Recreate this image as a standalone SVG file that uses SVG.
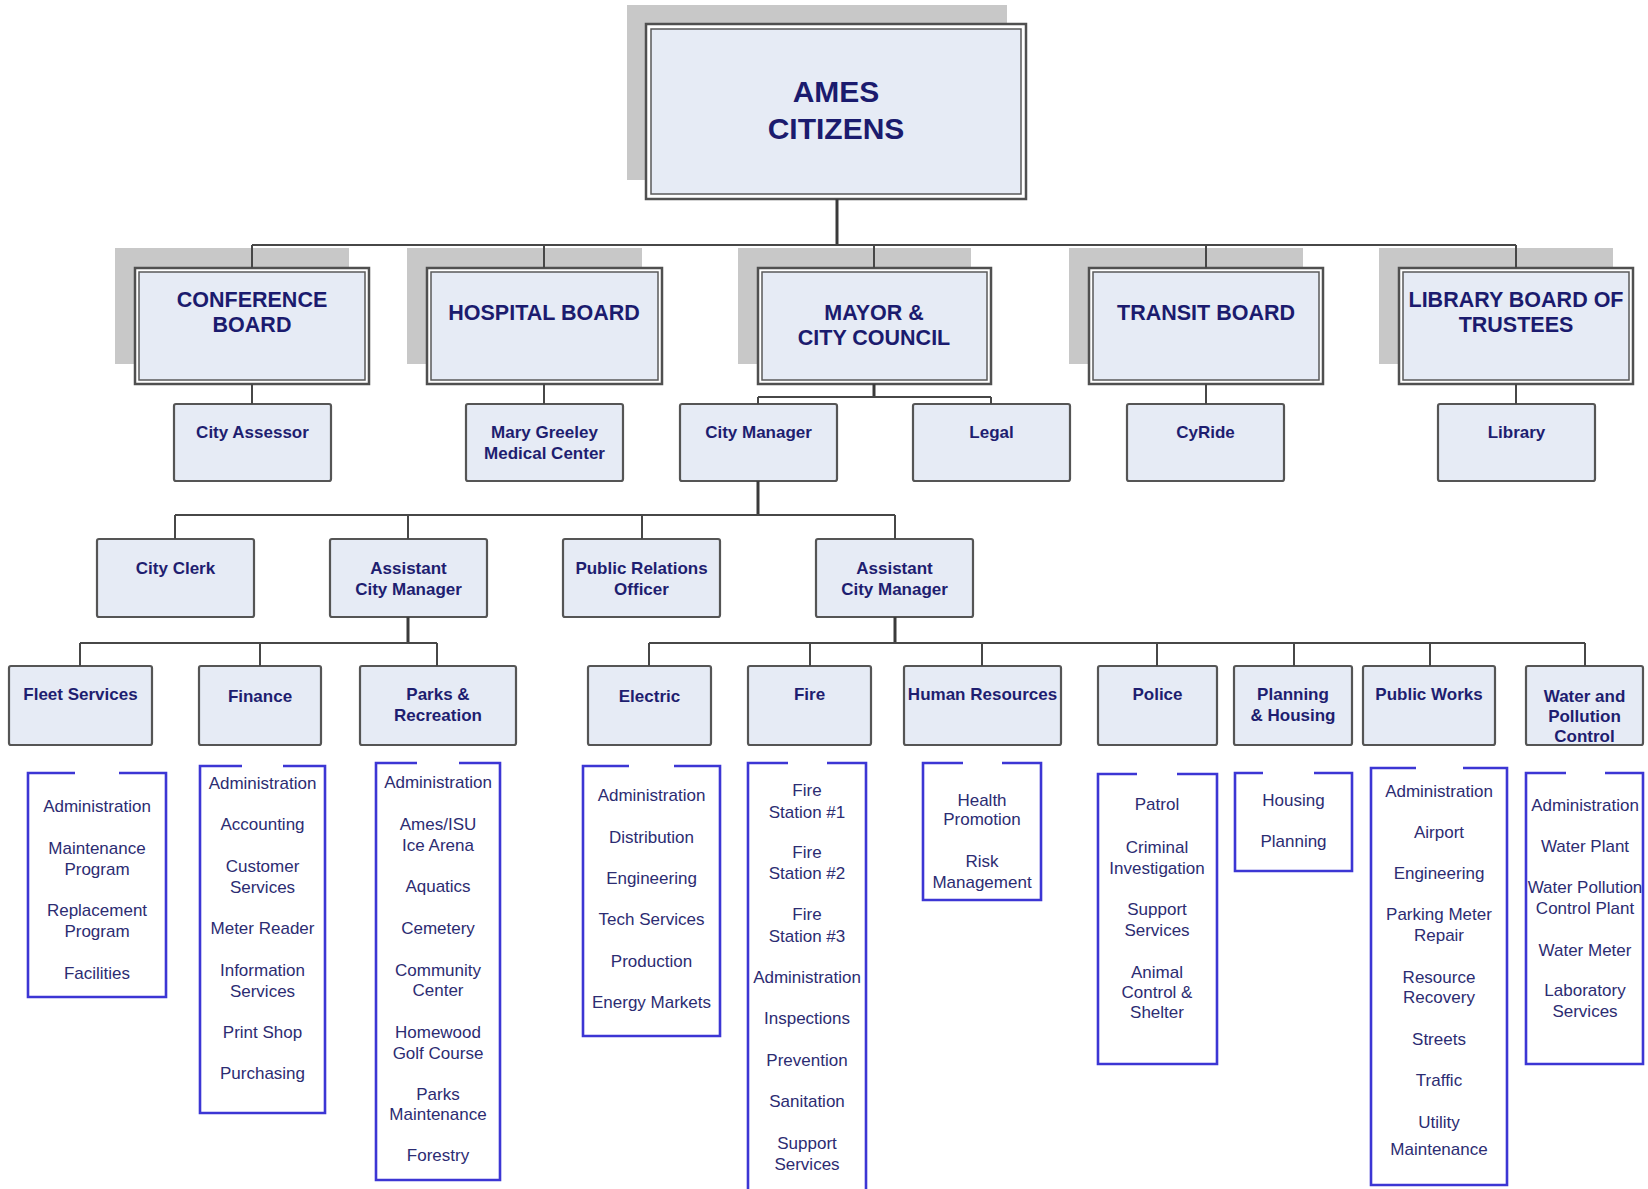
<svg xmlns="http://www.w3.org/2000/svg" width="1648" height="1189" viewBox="0 0 1648 1189">
<style>
.shadow{fill:#c8c8c8}
.bout{fill:#ffffff;stroke:#505050;stroke-width:2.5}
.bin{fill:#e6ebf5;stroke:#5a5a5a;stroke-width:1.5}
.box{fill:#e6ebf5;stroke:#555555;stroke-width:2.2}
.list{fill:none;stroke:#3c36d4;stroke-width:2.6}
.conn{fill:none;stroke:#474747;stroke-width:2}
.connb{fill:none;stroke:#3a3a3a;stroke-width:3}
text{font-family:"Liberation Sans",Arial,sans-serif;text-anchor:middle}
.tt{font-size:30px;font-weight:bold;fill:#1b1b6e}
.tb{font-size:21.5px;font-weight:bold;fill:#1b1b6e}
.tx{font-size:17px;font-weight:bold;fill:#1e1e70}
.ti{font-size:17px;fill:#2c2c72}
</style>
<rect width="1648" height="1189" fill="#ffffff"/>

<g id="citizens">
<rect class="shadow" x="627" y="5" width="380" height="175"/>
<rect class="bout" x="646" y="24" width="380" height="175"/>
<rect class="bin" x="651" y="29" width="370" height="165"/>
<text class="tt" x="836" y="102">AMES</text>
<text class="tt" x="836" y="139">CITIZENS</text>
</g>

<g id="conference-board">
<rect class="shadow" x="115" y="248" width="234" height="116"/>
<rect class="bout" x="135" y="268" width="234" height="116"/>
<rect class="bin" x="139" y="272" width="226" height="108"/>
<text class="tb" x="252" y="307">CONFERENCE</text>
<text class="tb" x="252" y="332">BOARD</text>
</g>
<g id="hospital-board">
<rect class="shadow" x="407" y="248" width="235" height="116"/>
<rect class="bout" x="427" y="268" width="235" height="116"/>
<rect class="bin" x="431" y="272" width="227" height="108"/>
<text class="tb" x="544" y="320">HOSPITAL BOARD</text>
</g>
<g id="mayor-council">
<rect class="shadow" x="738" y="248" width="233" height="116"/>
<rect class="bout" x="758" y="268" width="233" height="116"/>
<rect class="bin" x="762" y="272" width="225" height="108"/>
<text class="tb" x="874" y="320">MAYOR &amp;</text>
<text class="tb" x="874" y="345">CITY COUNCIL</text>
</g>
<g id="transit-board">
<rect class="shadow" x="1069" y="248" width="234" height="116"/>
<rect class="bout" x="1089" y="268" width="234" height="116"/>
<rect class="bin" x="1093" y="272" width="226" height="108"/>
<text class="tb" x="1206" y="320">TRANSIT BOARD</text>
</g>
<g id="library-board">
<rect class="shadow" x="1379" y="248" width="234" height="116"/>
<rect class="bout" x="1399" y="268" width="234" height="116"/>
<rect class="bin" x="1403" y="272" width="226" height="108"/>
<text class="tb" x="1516" y="307">LIBRARY BOARD OF</text>
<text class="tb" x="1516" y="332">TRUSTEES</text>
</g>

<g id="city-assessor"><rect class="box" x="174" y="404" width="157" height="77" rx="2"/><text class="tx" x="252.5" y="438">City Assessor</text></g>
<g id="mary-greeley"><rect class="box" x="466" y="404" width="157" height="77" rx="2"/><text class="tx" x="544.5" y="438">Mary Greeley</text><text class="tx" x="544.5" y="459">Medical Center</text></g>
<g id="city-manager"><rect class="box" x="680" y="404" width="157" height="77" rx="2"/><text class="tx" x="758.5" y="438">City Manager</text></g>
<g id="legal"><rect class="box" x="913" y="404" width="157" height="77" rx="2"/><text class="tx" x="991.5" y="438">Legal</text></g>
<g id="cyride"><rect class="box" x="1127" y="404" width="157" height="77" rx="2"/><text class="tx" x="1205.5" y="438">CyRide</text></g>
<g id="library"><rect class="box" x="1438" y="404" width="157" height="77" rx="2"/><text class="tx" x="1516.5" y="438">Library</text></g>

<g id="city-clerk"><rect class="box" x="97" y="539" width="157" height="78" rx="2"/><text class="tx" x="175.5" y="574">City Clerk</text></g>
<g id="asst-city-manager-1"><rect class="box" x="330" y="539" width="157" height="78" rx="2"/><text class="tx" x="408.5" y="574">Assistant</text><text class="tx" x="408.5" y="595">City Manager</text></g>
<g id="public-relations"><rect class="box" x="563" y="539" width="157" height="78" rx="2"/><text class="tx" x="641.5" y="574">Public Relations</text><text class="tx" x="641.5" y="595">Officer</text></g>
<g id="asst-city-manager-2"><rect class="box" x="816" y="539" width="157" height="78" rx="2"/><text class="tx" x="894.5" y="574">Assistant</text><text class="tx" x="894.5" y="595">City Manager</text></g>

<g id="fleet-services"><rect class="box" x="9" y="666" width="143" height="79" rx="2"/><text class="tx" x="80.5" y="700">Fleet Services</text></g>
<g id="finance"><rect class="box" x="199" y="666" width="122" height="79" rx="2"/><text class="tx" x="260" y="702">Finance</text></g>
<g id="parks-recreation"><rect class="box" x="360" y="666" width="156" height="79" rx="2"/><text class="tx" x="438" y="700">Parks &amp;</text><text class="tx" x="438" y="721">Recreation</text></g>
<g id="electric"><rect class="box" x="588" y="666" width="123" height="79" rx="2"/><text class="tx" x="649.5" y="702">Electric</text></g>
<g id="fire"><rect class="box" x="748" y="666" width="123" height="79" rx="2"/><text class="tx" x="809.5" y="700">Fire</text></g>
<g id="human-resources"><rect class="box" x="904" y="666" width="157" height="79" rx="2"/><text class="tx" x="982.5" y="700">Human Resources</text></g>
<g id="police"><rect class="box" x="1098" y="666" width="119" height="79" rx="2"/><text class="tx" x="1157.5" y="700">Police</text></g>
<g id="planning-housing"><rect class="box" x="1234" y="666" width="118" height="79" rx="2"/><text class="tx" x="1293" y="700">Planning</text><text class="tx" x="1293" y="721">&amp; Housing</text></g>
<g id="public-works"><rect class="box" x="1363" y="666" width="132" height="79" rx="2"/><text class="tx" x="1429" y="700">Public Works</text></g>
<g id="water-pollution"><rect class="box" x="1526" y="666" width="117" height="79" rx="2"/><text class="tx" x="1584.5" y="702">Water and</text><text class="tx" x="1584.5" y="722">Pollution</text><text class="tx" x="1584.5" y="742">Control</text></g>

<g id="fleet-list">
<path class="list" d="M75,773 H28 V997 H166 V773 H119"/>
<text class="ti" x="97" y="812">Administration</text>
<text class="ti" x="97" y="854">Maintenance</text>
<text class="ti" x="97" y="875">Program</text>
<text class="ti" x="97" y="916">Replacement</text>
<text class="ti" x="97" y="937">Program</text>
<text class="ti" x="97" y="979">Facilities</text>
</g>
<g id="finance-list">
<path class="list" d="M242,766 H200 V1113 H325 V766 H283"/>
<text class="ti" x="262.5" y="789">Administration</text>
<text class="ti" x="262.5" y="830">Accounting</text>
<text class="ti" x="262.5" y="872">Customer</text>
<text class="ti" x="262.5" y="893">Services</text>
<text class="ti" x="262.5" y="934">Meter Reader</text>
<text class="ti" x="262.5" y="976">Information</text>
<text class="ti" x="262.5" y="997">Services</text>
<text class="ti" x="262.5" y="1038">Print Shop</text>
<text class="ti" x="262.5" y="1079">Purchasing</text>
</g>
<g id="parks-list">
<path class="list" d="M417,763 H376 V1180 H500 V763 H459"/>
<text class="ti" x="438" y="788">Administration</text>
<text class="ti" x="438" y="830">Ames/ISU</text>
<text class="ti" x="438" y="851">Ice Arena</text>
<text class="ti" x="438" y="892">Aquatics</text>
<text class="ti" x="438" y="934">Cemetery</text>
<text class="ti" x="438" y="976">Community</text>
<text class="ti" x="438" y="996">Center</text>
<text class="ti" x="438" y="1038">Homewood</text>
<text class="ti" x="438" y="1059">Golf Course</text>
<text class="ti" x="438" y="1100">Parks</text>
<text class="ti" x="438" y="1120">Maintenance</text>
<text class="ti" x="438" y="1161">Forestry</text>
</g>
<g id="electric-list">
<path class="list" d="M629,766 H583 V1036 H720 V766 H674"/>
<text class="ti" x="651.5" y="801">Administration</text>
<text class="ti" x="651.5" y="843">Distribution</text>
<text class="ti" x="651.5" y="884">Engineering</text>
<text class="ti" x="651.5" y="925">Tech Services</text>
<text class="ti" x="651.5" y="967">Production</text>
<text class="ti" x="651.5" y="1008">Energy Markets</text>
</g>
<g id="fire-list">
<path class="list" d="M788,763 H748 V1195 M866,1195 V763 H827"/>
<text class="ti" x="807" y="796">Fire</text>
<text class="ti" x="807" y="818">Station #1</text>
<text class="ti" x="807" y="858">Fire</text>
<text class="ti" x="807" y="879">Station #2</text>
<text class="ti" x="807" y="920">Fire</text>
<text class="ti" x="807" y="942">Station #3</text>
<text class="ti" x="807" y="983">Administration</text>
<text class="ti" x="807" y="1024">Inspections</text>
<text class="ti" x="807" y="1066">Prevention</text>
<text class="ti" x="807" y="1107">Sanitation</text>
<text class="ti" x="807" y="1149">Support</text>
<text class="ti" x="807" y="1170">Services</text>
</g>
<g id="hr-list">
<path class="list" d="M963,763 H923 V900 H1041 V763 H1002"/>
<text class="ti" x="982" y="806">Health</text>
<text class="ti" x="982" y="825">Promotion</text>
<text class="ti" x="982" y="867">Risk</text>
<text class="ti" x="982" y="888">Management</text>
</g>
<g id="police-list">
<path class="list" d="M1137,774 H1098 V1064 H1217 V774 H1177"/>
<text class="ti" x="1157" y="810">Patrol</text>
<text class="ti" x="1157" y="853">Criminal</text>
<text class="ti" x="1157" y="874">Investigation</text>
<text class="ti" x="1157" y="915">Support</text>
<text class="ti" x="1157" y="936">Services</text>
<text class="ti" x="1157" y="978">Animal</text>
<text class="ti" x="1157" y="998">Control &amp;</text>
<text class="ti" x="1157" y="1018">Shelter</text>
</g>
<g id="planning-list">
<path class="list" d="M1263,773 H1235 V871 H1352 V773 H1314"/>
<text class="ti" x="1293.5" y="806">Housing</text>
<text class="ti" x="1293.5" y="847">Planning</text>
</g>
<g id="public-works-list">
<path class="list" d="M1416,768 H1371 V1185 H1507 V768 H1463"/>
<text class="ti" x="1439" y="797">Administration</text>
<text class="ti" x="1439" y="838">Airport</text>
<text class="ti" x="1439" y="879">Engineering</text>
<text class="ti" x="1439" y="920">Parking Meter</text>
<text class="ti" x="1439" y="941">Repair</text>
<text class="ti" x="1439" y="983">Resource</text>
<text class="ti" x="1439" y="1003">Recovery</text>
<text class="ti" x="1439" y="1045">Streets</text>
<text class="ti" x="1439" y="1086">Traffic</text>
<text class="ti" x="1439" y="1128">Utility</text>
<text class="ti" x="1439" y="1155">Maintenance</text>
</g>
<g id="water-list">
<path class="list" d="M1566,773 H1526 V1064 H1643 V773 H1605"/>
<text class="ti" x="1585" y="811">Administration</text>
<text class="ti" x="1585" y="852">Water Plant</text>
<text class="ti" x="1585" y="893">Water Pollution</text>
<text class="ti" x="1585" y="914">Control Plant</text>
<text class="ti" x="1585" y="956">Water Meter</text>
<text class="ti" x="1585" y="996">Laboratory</text>
<text class="ti" x="1585" y="1017">Services</text>
</g>

<g id="connectors">
<path class="connb" d="M837,199 V245"/>
<path class="conn" d="M252,245 H1516 M252,245 V268 M544,245 V268 M874,245 V268 M1206,245 V268 M1516,245 V268"/>
<path class="conn" d="M252,384 V404 M544,384 V404 M1206,384 V404 M1516,384 V404"/>
<path class="connb" d="M874,384 V397"/>
<path class="conn" d="M758,397 H991 M758,397 V404 M991,397 V404"/>
<path class="connb" d="M758,481 V515"/>
<path class="conn" d="M175,515 H895 M175,515 V539 M408,515 V539 M642,515 V539 M895,515 V539"/>
<path class="connb" d="M408,617 V643 M895,617 V643"/>
<path class="conn" d="M80,643 H437 M80,643 V666 M260,643 V666 M437,643 V666"/>
<path class="conn" d="M649,643 H1585 M649,643 V666 M810,643 V666 M982,643 V666 M1157,643 V666 M1294,643 V666 M1430,643 V666 M1585,643 V666"/>
</g>
</svg>
